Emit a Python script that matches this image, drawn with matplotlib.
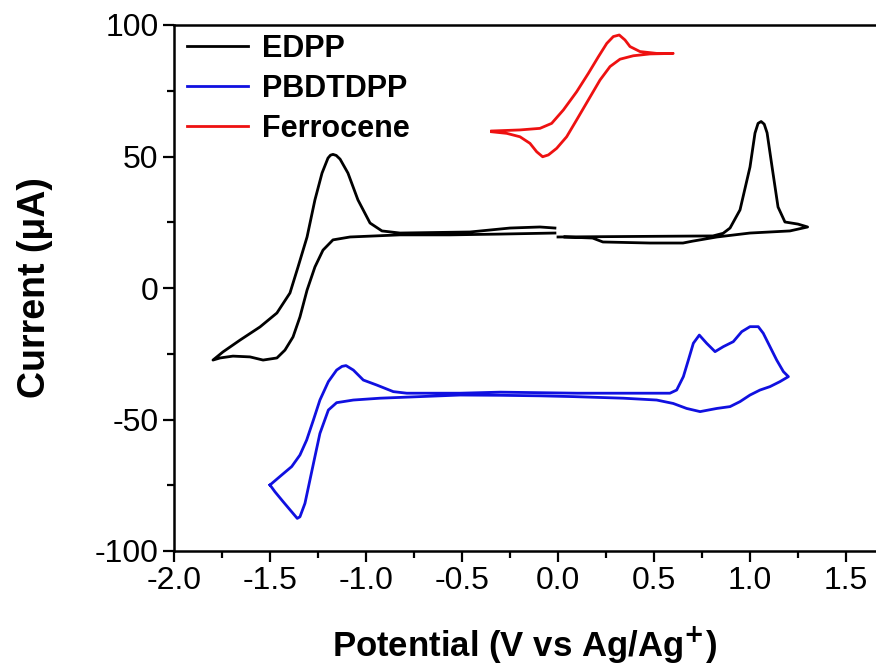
import numpy as np
import matplotlib
matplotlib.use("Agg")
import matplotlib.pyplot as plt
from matplotlib.ticker import MultipleLocator

plt.rcParams['font.family'] = ['Liberation Sans', 'DejaVu Sans']
plt.rcParams['axes.unicode_minus'] = False

# EDPP, cathodic loop (0 V -> -1.8 V -> 0 V)
edpp_neg_v = [-0.016, -0.302, -0.563, -0.823, -1.083, -1.172, -1.224, -1.266, -1.307, -1.344,
              -1.380, -1.422, -1.464, -1.536, -1.604, -1.693, -1.760, -1.797,
              -1.745, -1.656, -1.552, -1.464, -1.396, -1.354, -1.307, -1.266, -1.229, -1.198,
              -1.185, -1.172, -1.155, -1.135, -1.094, -1.042, -0.979, -0.917, -0.823, -0.458,
              -0.250, -0.094, -0.016]
edpp_neg_i = [20.9, 20.5, 20.2, 20.2, 19.4, 18.3, 14.4, 8.0, -0.8, -11.0,
              -18.6, -23.6, -26.6, -27.4, -26.2, -25.9, -26.6, -27.4,
              -24.3, -19.8, -14.8, -9.5, -1.9, 8.0, 19.4, 33.5, 43.7, 49.4,
              50.5, 50.8, 50.4, 49.0, 43.7, 33.5, 24.7, 21.7, 20.9, 21.3,
              22.8, 23.2, 22.8]

# EDPP, anodic loop (0 V -> 1.3 V -> 0 V)
edpp_pos_v = [0.0, 0.40, 0.807, 0.860, 0.896, 0.948, 1.000, 1.026, 1.042, 1.058, 1.074, 1.089,
              1.115, 1.146, 1.182, 1.250, 1.300, 1.208, 1.000, 0.828, 0.700, 0.651, 0.479,
              0.234, 0.180, 0.036]
edpp_pos_i = [19.4, 19.6, 19.8, 20.8, 22.8, 29.7, 46.0, 58.9, 62.6, 63.3, 62.3, 59.0,
              46.0, 30.8, 25.1, 24.3, 23.2, 21.7, 20.9, 19.4, 17.8, 17.1, 17.1,
              17.5, 19.0, 19.4]

# PBDTDPP
pbdt_v = [-1.500, -1.439, -1.387, -1.344, -1.309, -1.274, -1.240, -1.196, -1.153, -1.125,
          -1.104, -1.066, -1.014, -0.944, -0.858, -0.788, -0.510, -0.300, 0.100, 0.300,
          0.583, 0.618, 0.653, 0.679, 0.705, 0.736, 0.774, 0.818, 0.861, 0.913, 0.957,
          1.000, 1.043, 1.069, 1.104, 1.139, 1.174, 1.200,
          1.156, 1.104, 1.052, 1.000, 0.948, 0.896, 0.827, 0.740, 0.670, 0.600, 0.514,
          0.340, 0.080, -0.094, -0.300, -0.510, -0.719, -0.927, -1.066, -1.153, -1.196,
          -1.240, -1.266, -1.292, -1.318, -1.344, -1.358, -1.387, -1.431, -1.474, -1.500]
pbdt_i = [-74.9, -71.1, -67.9, -63.5, -57.8, -50.2, -42.6, -35.6, -31.2, -29.8,
          -29.5, -31.2, -35.0, -36.9, -39.4, -40.0, -40.0, -39.6, -40.0, -40.0,
          -40.0, -38.8, -33.7, -27.4, -21.0, -17.9, -21.0, -24.2, -22.3, -20.4, -16.6,
          -14.7, -14.7, -17.2, -22.3, -27.4, -31.8, -33.7,
          -35.6, -37.5, -38.8, -40.7, -43.2, -45.1, -45.8, -47.0, -45.8, -43.9, -42.6,
          -41.9, -41.3, -41.0, -40.8, -40.7, -41.3, -41.9, -42.6, -43.6, -46.4,
          -55.3, -64.1, -73.0, -81.9, -87.0, -87.6, -85.1, -81.3, -77.5, -74.9]

# Ferrocene
fc_v = [-0.345, -0.198, -0.094, -0.033, 0.028, 0.097, 0.158, 0.210, 0.254, 0.288, 0.319,
        0.349, 0.375, 0.427, 0.514, 0.600,
        0.479, 0.392, 0.323, 0.271, 0.219, 0.158, 0.097, 0.045, -0.007, -0.050, -0.080,
        -0.111, -0.146, -0.198, -0.267, -0.345]
fc_i = [59.7, 60.1, 60.7, 62.6, 67.7, 74.6, 81.6, 87.9, 93.0, 95.6, 96.2,
        94.3, 91.8, 89.9, 89.2, 89.2,
        89.0, 88.3, 87.0, 84.2, 79.1, 71.5, 63.9, 57.5, 53.1, 50.6, 49.9,
        51.8, 55.0, 57.5, 58.8, 59.4]

fig = plt.figure(figsize=(8.76, 6.68), dpi=100)
ax = fig.add_axes([174/876, 1 - 551/668, 1 - 174/876, (551 - 25)/668])

line_kw = dict(lw=2, solid_joinstyle='round')
ax.plot(edpp_neg_v, edpp_neg_i, color='black', label='EDPP', **line_kw)
ax.plot(edpp_pos_v, edpp_pos_i, color='black', **line_kw)
ax.plot(pbdt_v, pbdt_i, color='#1010e0', label='PBDTDPP', **line_kw)
ax.plot(fc_v, fc_i, color='#ee1111', label='Ferrocene', **line_kw)

ax.set_xlim(-2.0, (876 - 174)/192 - 2.0)
ax.set_ylim(-100, 100)
ax.xaxis.set_major_locator(MultipleLocator(0.5))
ax.xaxis.set_minor_locator(MultipleLocator(0.25))
ax.yaxis.set_major_locator(MultipleLocator(50))
ax.yaxis.set_minor_locator(MultipleLocator(25))
ax.xaxis.set_major_formatter(plt.FuncFormatter(lambda v, p: '%.1f' % v))
ax.tick_params(which='major', direction='out', length=8, width=1.6, labelsize=23, pad=3)
ax.tick_params(which='minor', direction='out', length=5, width=1.6)
ax.tick_params(top=False, right=False)
for s in ['left', 'bottom', 'top']:
    ax.spines[s].set_linewidth(1.8)
ax.spines['right'].set_visible(False)

ax.set_xlabel('Potential (V vs Ag/Ag$^{\\mathbf{+}}$)', fontsize=25, fontweight='bold', labelpad=20)
ax.set_ylabel('Current (\u03bcA)', fontsize=27, fontweight='bold', labelpad=30)

leg = ax.legend(loc='upper left', bbox_to_anchor=(0.006, 1.0), frameon=False,
                handlelength=2.0, handletextpad=0.45, labelspacing=0.32,
                borderaxespad=0.0, borderpad=0.3, prop={'weight': 'bold', 'size': 22})

fig.savefig('out.png', dpi=100)
